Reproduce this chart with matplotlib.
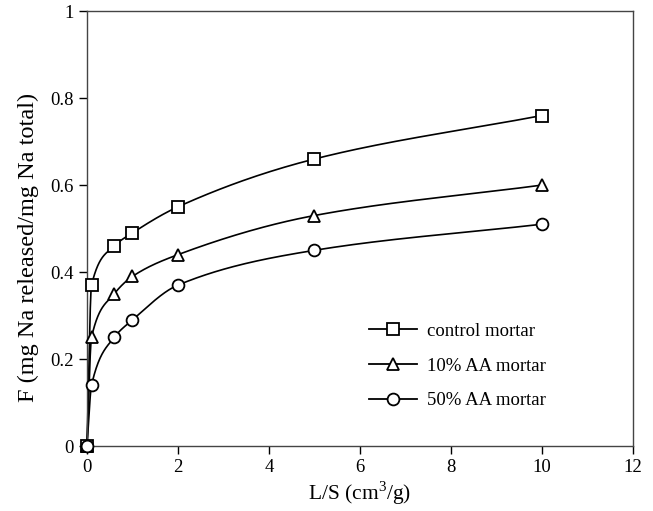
import numpy as np
import matplotlib
matplotlib.use("Agg")
import matplotlib.pyplot as plt

# ── Data ─────────────────────────────────────────────────────────────────────
ls_ratio = [0, 0.1, 0.6, 1, 2, 5, 10]
control = [0, 0.37, 0.46, 0.49, 0.55, 0.66, 0.76]
aa10 = [0, 0.25, 0.35, 0.39, 0.44, 0.53, 0.60]
aa50 = [0, 0.14, 0.25, 0.29, 0.37, 0.45, 0.51]
labels = ["control mortar", "10% AA mortar", "50% AA mortar"]
markers = ["s", "^", "o"]


def pchip(x, y, n=60):
    """Monotone cubic (Fritsch-Carlson) curve through the points, for drawing."""
    x = np.asarray(x, float); y = np.asarray(y, float)
    h = np.diff(x); d = np.diff(y) / h
    m = np.zeros_like(y)
    for k in range(1, len(x) - 1):
        if d[k-1] * d[k] > 0:
            w1 = 2*h[k] + h[k-1]; w2 = h[k] + 2*h[k-1]
            m[k] = (w1 + w2) / (w1/d[k-1] + w2/d[k])
    m[0] = d[0]; m[-1] = d[-1]
    xs, ys = [], []
    for k in range(len(x) - 1):
        t = np.linspace(0, 1, n)
        h00 = 2*t**3 - 3*t**2 + 1; h10 = t**3 - 2*t**2 + t
        h01 = -2*t**3 + 3*t**2; h11 = t**3 - t**2
        xs.append(x[k] + t*h[k])
        ys.append(h00*y[k] + h10*h[k]*m[k] + h01*y[k+1] + h11*h[k]*m[k+1])
    return np.concatenate(xs), np.concatenate(ys)


plt.rcParams.update({
    "font.family": "Liberation Serif", "font.size": 13,
    "mathtext.fontset": "custom", "mathtext.rm": "Liberation Serif",
})

fig = plt.figure(figsize=(6.53, 5.11), dpi=100)
ax = fig.add_axes([0.1332, 0.1272, 0.836, 0.851])

for ys, mk, lab in zip([control, aa10, aa50], markers, labels):
    cx, cy = pchip(ls_ratio, ys)
    ax.plot(cx, cy, color="black", lw=1.2, clip_on=False)
    ax.plot(ls_ratio, ys, linestyle="none", marker=mk, markersize=8.5,
            markerfacecolor="white", markeredgecolor="black", mew=1.3,
            clip_on=False, zorder=3)
    ax.plot([], [], color="black", lw=1.3, marker=mk, markersize=8.5,
            markerfacecolor="white", markeredgecolor="black", mew=1.3, label=lab)

ax.set_xlim(0, 12)
ax.set_ylim(0, 1)
ax.set_xticks(range(0, 13, 2))
ax.set_yticks([0, 0.2, 0.4, 0.6, 0.8, 1])
ax.set_yticklabels(["0", "0.2", "0.4", "0.6", "0.8", "1"])
ax.tick_params(direction="out", length=6, width=1, labelsize=13.5)
for sp in ax.spines.values():
    sp.set_linewidth(1)
    sp.set_color("#444444")

ax.set_xlabel("L/S (cm$^3$/g)", fontsize=15.5, labelpad=2)
ax.set_ylabel("F (mg Na released/mg Na total)", fontsize=17.5)
ax.yaxis.set_label_coords(-0.088, 0.457)

ax.legend(loc="center left", bbox_to_anchor=(0.485, 0.184), frameon=False,
          handlelength=2.56, labelspacing=0.93, fontsize=13.5, handletextpad=0.53)

plt.savefig("out.png", dpi=100)
plt.close()
